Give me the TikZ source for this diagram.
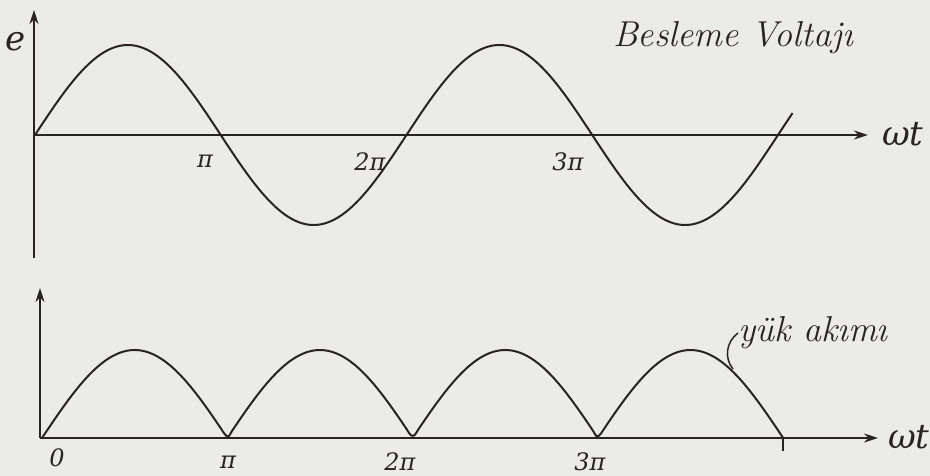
\documentclass[tikz,border=0pt]{standalone}
\usepackage{fontspec}
\newfontfamily\grk{DejaVu Serif}
\usetikzlibrary{arrows.meta}
\definecolor{paper}{RGB}{236,236,231}
\definecolor{ink}{RGB}{42,36,32}
\tikzset{
  axis/.style={draw=ink, line width=2pt, -{Stealth[length=14pt,width=9pt]}},
  wave/.style={draw=ink, line width=2pt, smooth},
  lbl/.style={text=ink, inner sep=0pt, font=\fontsize{24}{24}\selectfont\grk\itshape},
  biglbl/.style={text=ink, inner sep=0pt, font=\fontsize{34}{34}\selectfont\grk\itshape},
  note/.style={text=ink, inner sep=0pt, font=\fontsize{36}{36}\selectfont\itshape}
}
\begin{document}
\begin{tikzpicture}[x=1pt,y=-1pt]
\fill[paper] (0,0) rectangle (930,476);
\useasboundingbox (0,0) rectangle (930,476);
% top: supply voltage
\coordinate (o1) at (34,135);
\coordinate (y1) at (34,10);
\coordinate (b1) at (34,258);
\coordinate (x1) at (868,135);
\draw[axis] (b1) -- (y1);
\draw[axis] (o1) -- (x1);
\draw[wave] plot[domain=0:4.08, samples=160] ({35+\x*185.75}, {135-90*sin(\x*180)});
\node[biglbl] (e) at (16,42) {e};
\node[biglbl, anchor=west] (wt1) at (882,134) {ωt};
\node[lbl] (pi1) at (205,161) {π};
\node[lbl] (pi2) at (370,162) {2π};
\node[lbl] (pi3) at (568,162) {3π};
\node[note] (vs) at (733,38) {Besleme Voltajı};
% bottom: load current
\coordinate (o2) at (40,438);
\coordinate (y2) at (40,288);
\coordinate (x2) at (878,438);
\coordinate (t4) at (783,451);
\coordinate (z4) at (783,438);
\draw[axis] (o2) -- (y2);
\draw[axis] (o2) -- (x2);
\draw[wave] plot[domain=0:4, samples=200] ({42+\x*185.3}, {438-88*abs(sin(\x*180))});
\draw[draw=ink, line width=2pt] (z4) -- (t4);
\node[biglbl, anchor=west] (wt2) at (888,437) {ωt};
\node[lbl] (n0) at (57,458) {0};
\node[lbl] (n1) at (228,462) {π};
\node[lbl] (n2) at (400,462) {2π};
\node[lbl] (n3) at (590,462) {3π};
\node[note, anchor=west] (ia) at (738,333) {yük akımı};
\coordinate (pt) at (733,369);
\draw[draw=ink, line width=1.5pt] (ia.west) .. controls (726,342) and (724,358) .. (pt);
\end{tikzpicture}
\end{document}
